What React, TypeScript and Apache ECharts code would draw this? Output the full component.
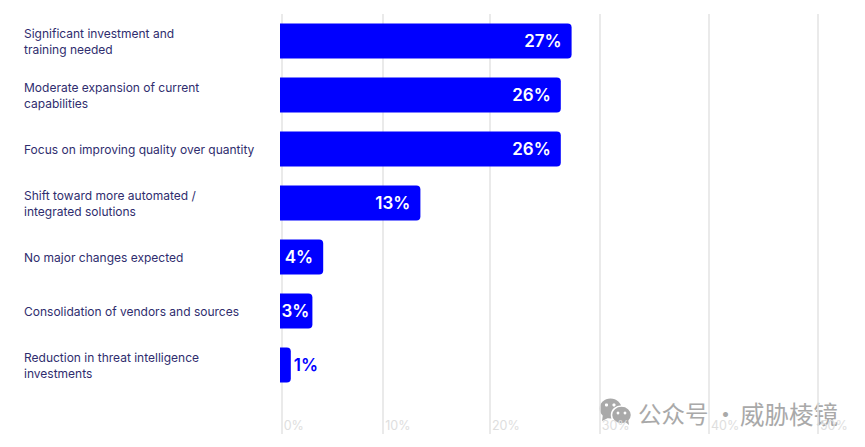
import React, { useEffect, useRef } from "react";
import * as echarts from "echarts";

const categories = [
  "Significant investment and\ntraining needed",
  "Moderate expansion of current\ncapabilities",
  "Focus on improving quality over quantity",
  "Shift toward more automated /\nintegrated solutions",
  "No major changes expected",
  "Consolidation of vendors and sources",
  "Reduction in threat intelligence\ninvestments",
];
const values = [27, 26, 26, 13, 4, 3, 1];
// Gridlines in the reference are not evenly spaced; positions read in axis units.
const gridTicks = [0.16, 9.56, 19.44, 29.6, 39.72, 49.81];
const watermarkLeft = "公众号 ·";
const watermarkRight = "威胁棱镜";

export default function App() {
  const ref = useRef<HTMLDivElement>(null);
  useEffect(() => {
    document.body.style.margin = "0";
    const chart = echarts.init(ref.current!, undefined, { renderer: "svg" });
    const font = "Inter";
    const wm = "#a9a9a9";
    chart.setOption({
      animation: false,
      backgroundColor: "#ffffff",
      grid: [
        { left: 280, top: 14, width: 540, height: 420 },
        { left: 280, top: 14, width: 540, height: 378 },
      ],
      xAxis: [
        {
          gridIndex: 0,
          type: "value",
          min: 0,
          max: 50,
          axisLine: { show: false },
          axisTick: { show: false, customValues: gridTicks },
          splitLine: { show: true, lineStyle: { color: "#e3e3e3", width: 1.5 } },
          axisLabel: {
            show: true,
            inside: true,
            customValues: gridTicks,
            align: "left",
            margin: 2,
            padding: [0, 0, 0, 2],
            color: "#dedede",
            fontFamily: font,
            fontSize: 12.5,
            hideOverlap: false,
            showMinLabel: true,
            showMaxLabel: true,
            formatter: (v: number) => `${Math.round(v / 10) * 10}%`,
          },
        },
        {
          gridIndex: 1,
          type: "value",
          min: 0,
          max: 50,
          show: false,
        },
      ],
      yAxis: [
        { gridIndex: 0, type: "value", show: false, min: 0, max: 1 },
        {
          gridIndex: 1,
          type: "category",
          inverse: true,
          data: categories,
          axisLine: { show: false },
          axisTick: { show: false },
          splitLine: { show: false },
          axisLabel: {
            interval: 0,
            align: "left",
            margin: 256,
            color: "#2f2d6e",
            fontFamily: font,
            fontSize: 12,
            lineHeight: 16,
          },
        },
      ],
      series: [
        {
          type: "bar",
          xAxisIndex: 1,
          yAxisIndex: 1,
          barWidth: 35,
          itemStyle: { color: "#0000ff", borderRadius: [0, 4, 4, 0] },
          label: {
            show: true,
            position: "insideRight",
            distance: 10,
            color: "#ffffff",
            fontFamily: font,
            fontWeight: 600,
            fontSize: 17,
            formatter: "{c}%",
          },
          data: values.map((v) => {
            if (v === 1) {
              return {
                value: v,
                label: { position: "right", distance: 3, color: "#0000ff" },
              };
            }
            if (v === 3) {
              return { value: v, label: { distance: 3 } };
            }
            return { value: v };
          }),
        },
      ],
      graphic: [
        {
          type: "group",
          z: 100,
          children: [
            { type: "ellipse", shape: { cx: 610.5, cy: 408.5, rx: 11, ry: 10 }, style: { fill: wm } },
            { type: "polygon", shape: { points: [[603, 414], [602, 421], [610, 417]] }, style: { fill: wm } },
            { type: "circle", shape: { cx: 606.5, cy: 405, r: 1.6 }, style: { fill: "#fff" } },
            { type: "circle", shape: { cx: 614, cy: 405, r: 1.6 }, style: { fill: "#fff" } },
            { type: "ellipse", shape: { cx: 621.5, cy: 415, rx: 10, ry: 9 }, style: { fill: wm, stroke: "#fff", lineWidth: 1.5 } },
            { type: "polygon", shape: { points: [[624, 421], [629, 425], [628, 419]] }, style: { fill: wm } },
            { type: "circle", shape: { cx: 618, cy: 413, r: 1.4 }, style: { fill: "#fff" } },
            { type: "circle", shape: { cx: 625, cy: 413, r: 1.4 }, style: { fill: "#fff" } },
            {
              type: "text",
              x: 638,
              y: 413,
              style: {
                text: watermarkLeft,
                fill: wm,
                fontFamily: "Noto Sans CJK SC",
                fontSize: 23.5,
                verticalAlign: "middle",
              },
            },
            {
              type: "text",
              x: 740,
              y: 413,
              style: {
                text: watermarkRight,
                fill: wm,
                fontFamily: "Noto Sans CJK SC",
                fontSize: 24.5,
                verticalAlign: "middle",
              },
            },
          ],
        },
      ],
    });
    return () => chart.dispose();
  }, []);
  return <div ref={ref} style={{ width: 865, height: 447 }} />;
}
